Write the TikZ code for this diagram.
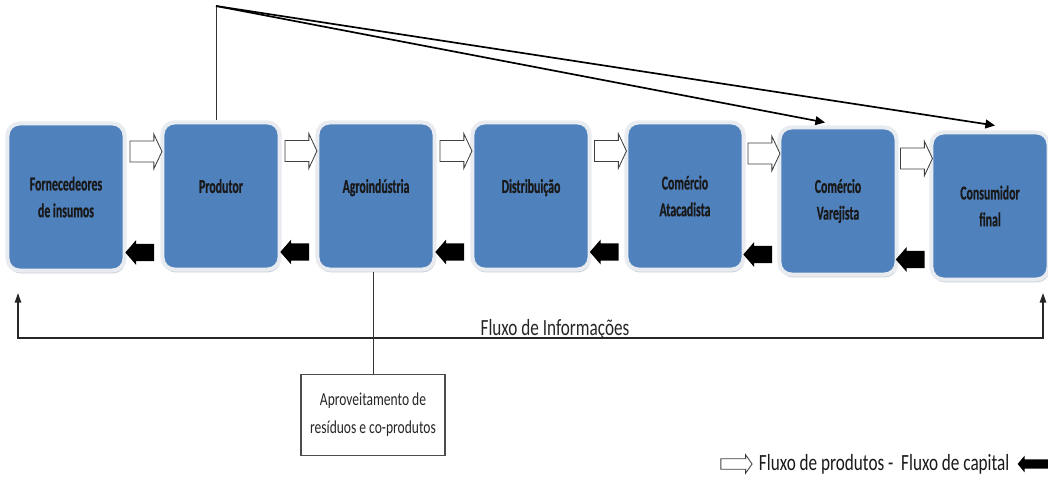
\documentclass[tikz,border=0pt]{standalone}
\usepackage{fontspec}
\setmainfont{Carlito}
\newfontfamily\narrowfont[FakeStretch=0.74]{Carlito}
\newfontfamily\stagefont[FakeStretch=0.6,FakeBold=0.6]{Carlito}
\usetikzlibrary{arrows.meta,positioning,shapes.arrows,calc,shadows}
\definecolor{chainblue}{RGB}{79,129,189}
\definecolor{chainframe}{RGB}{232,235,239}
\definecolor{chainshadow}{RGB}{150,160,175}
\tikzset{
  stage/.style    = {fill=chainblue,draw=chainframe,line width=0.1cm,rounded corners=0.3cm,
                     minimum width=2.925cm,minimum height=3.675cm,align=center,text=black!90,
                     font=\stagefont\bfseries\fontsize{14}{19}\selectfont,
                     drop shadow={shadow xshift=0.6pt,shadow yshift=-2pt,fill=chainshadow}},
  oneline/.style  = {text depth=0.5cm},
  prodflow/.style = {single arrow,draw=black!75,fill=white,line width=0.6pt,inner sep=0pt,
                     text height=0.25cm,text depth=0.25cm,minimum height=0.8cm,
                     single arrow head extend=0.17cm,single arrow tip angle=130},
  capflow/.style  = {single arrow,fill=black,inner sep=0pt,shape border rotate=180,
                     text height=0.21cm,text depth=0.21cm,minimum height=0.72cm,
                     single arrow head extend=0.09cm,single arrow tip angle=98},
  legprod/.style  = {prodflow,text height=0.12cm,text depth=0.12cm,minimum height=0.78cm,
                     single arrow head extend=0.1cm,single arrow tip angle=110},
  legcap/.style   = {capflow,text height=0.11cm,text depth=0.11cm,minimum height=0.8cm,
                     single arrow head extend=0.09cm,single arrow tip angle=100},
  link/.style     = {draw=black!80,line width=0.7pt},
  topflow/.style  = {draw=black,line width=1.2pt,-{Triangle[length=0.24cm,width=0.22cm]}},
  info/.style     = {draw=black!85,line width=1pt,
                     {Triangle[length=0.24cm,width=0.16cm]}-{Triangle[length=0.24cm,width=0.16cm]}},
  wastebox/.style = {draw=black!70,fill=white,line width=0.8pt,minimum width=3.6cm,
                     minimum height=2.03cm,align=center,text=black!85,
                     font=\narrowfont\fontsize{13}{20}\selectfont},
}

\begin{document}
\begin{tikzpicture}[x=0.025cm,y=-0.025cm]
  \useasboundingbox (0,0) rectangle (1048,480);
  \node[stage]         (forn) at (66,197)  {Fornecedeores\\de insumos};
  \node[stage,oneline] (prod) at (221,196) {Produtor};
  \node[stage,oneline] (agro) at (376,196) {Agroindústria};
  \node[stage,oneline] (dist) at (531,196) {Distribuição};
  \node[stage]         (atac) at (685,196) {Comércio\\Atacadista};
  \node[stage]         (varj) at (838,201) {Comércio\\Varejista};
  \node[stage]         (cons) at (990,206) {Consumidor\\final};
  \foreach \a/\b in {forn/prod,prod/agro,agro/dist,dist/atac,atac/varj,varj/cons}{
    \node[prodflow] (pf\a) at ($(\a.east)!.5!(\b.west)+(0,-45)$) {};
    \node[capflow]  (cf\a) at ($(\a.east)!.5!(\b.west)+(0,56)$) {};
  }
  \coordinate (apex) at (216,6);
  \draw[link] (apex) -- (apex |- prod.north);
  \draw[topflow] (apex) -- ($(varj.north)+(-13,-3)$);
  \draw[topflow] (apex) -- ($(cons.north)+(5,-5)$);
  \coordinate (infoL) at (18,293);
  \coordinate (infoR) at (1043,293);
  \draw[info] (infoL) -- ++(0,45) -| (infoR);
  \node[anchor=base,text=black!85,font=\narrowfont\fontsize{16.5}{18}\selectfont]
        (infotxt) at (555,335) {Fluxo de Informações};
  \node[wastebox] (aprov) at (373,415) {Aproveitamento de\\resíduos e co-produtos};
  \draw[link] (aprov.north) -- (aprov.north |- agro.south);
  \node[anchor=west,text=black!90,font=\narrowfont\fontsize{16.5}{18}\selectfont]
        (legtxt) at (754,464) {Fluxo de produtos -\ \ Fluxo de capital};
  \node[legprod,left=1pt of legtxt] (legpf) {};
  \node[legcap,right=2pt of legtxt] (legcf) {};
\end{tikzpicture}
\end{document}
